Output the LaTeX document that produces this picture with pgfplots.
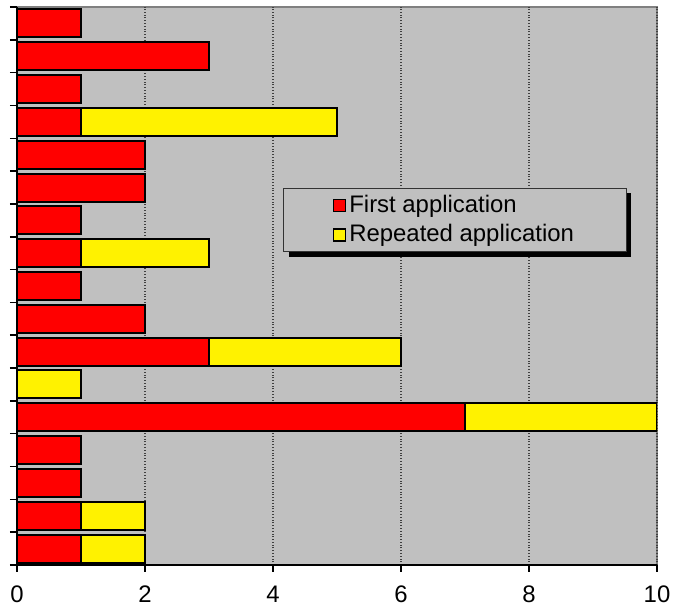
\documentclass[border=0pt]{standalone}
\usepackage{pgfplots}
\pgfplotsset{compat=1.18}
\usepackage{fontspec}
\setmainfont{Liberation Sans}
\usetikzlibrary{shadows}

\definecolor{bggray}{HTML}{C0C0C0}
\definecolor{framegray}{HTML}{808080}

\makeatletter
\tikzset{noshadow/.code={\let\tikz@preactions\pgfutil@empty}}
\makeatother

\pgfplotsset{
  sqlegend/.style={
    legend image code/.code={
      \draw[noshadow, ##1, line width=0.8bp] (0bp,-3bp) rectangle (6bp,3bp);
    }
  }
}

\begin{document}
\begin{tikzpicture}
\begin{axis}[
    name=ax,
    scale only axis,
    width=320bp,
    height=279bp,
    xbar stacked,
    bar width=14bp,
    xmin=0, xmax=10,
    ymin=0.5, ymax=17.5,
    enlargelimits=false,
    xtick={0,2,...,10},
    ytick={0.5,1.5,...,17.5},
    yticklabels={},
    yticklabel style={inner sep=0pt},
    axis lines=left,
    axis line style={-, black, line width=1bp},
    tick align=outside,
    major tick length=3.5bp,
    tick style={black, line width=0.75bp},
    xmajorgrids,
    major grid style={densely dotted, black!75, line width=0.6bp},
    axis background/.style={fill=bggray, draw=framegray, line width=1.2bp},
    /pgf/number format/assume math mode=true,
    xticklabel style={font=\fontsize{12}{14}\selectfont, yshift=-3.5bp},
    legend style={
      at={(0.416,0.676)}, anchor=north west,
      fill=bggray, draw=black!80, line width=0.5bp,
      drop shadow={shadow xshift=2.5bp, shadow yshift=-2.5bp, opacity=1, fill=black},
      inner xsep=24.5bp, inner ysep=2.5bp,
      font=\fontsize{12}{14}\selectfont,
      row sep=2.5bp,
      nodes={inner xsep=1.5bp, inner ysep=1bp},
    },
    legend cell align=left,
]
% rows from bottom (1) to top (17)
\addplot[fill=red, draw=black, line width=1bp, sqlegend] coordinates {
(1,1) (1,2) (1,3) (1,4) (7,5) (0,6) (3,7) (2,8) (1,9)
(1,10) (1,11) (2,12) (2,13) (1,14) (1,15) (3,16) (1,17)
};
\addplot[fill=yellow, draw=black, line width=1bp, sqlegend] coordinates {
(1,1) (1,2) (0,3) (0,4) (3,5) (1,6) (3,7) (0,8) (0,9)
(2,10) (0,11) (0,12) (0,13) (4,14) (0,15) (0,16) (0,17)
};
\legend{First application, Repeated application}
\end{axis}
\path ([xshift=-8.5bp,yshift=-21.5bp]ax.south west) rectangle ([xshift=10.5bp,yshift=3.5bp]ax.north east);
\end{tikzpicture}
\end{document}
